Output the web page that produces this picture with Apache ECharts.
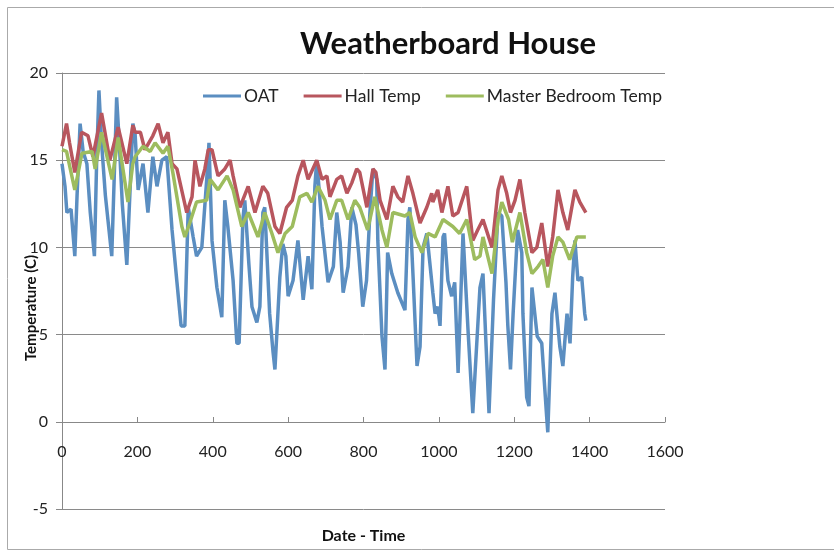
<!DOCTYPE html>
<html>
<head>
    <meta charset="utf-8">
    <title>Weatherboard House</title>
    <script src="https://cdn.jsdelivr.net/npm/echarts@6/dist/echarts.min.js"></script>
</head>
<body style="margin:0;background:#fff;">
<div id="main" style="width: 834px;height:550px;"></div>
<script type="text/javascript">
    // values, [x, temperature]
    var oat = [
        [0, 14.8], [8, 13.5], [13, 12.0], [24, 12.2], [34, 9.5], [40, 13], [48, 17.1], [56, 15.5],
        [66, 14.8], [75, 12], [86, 9.5], [92, 15], [98, 19.0], [105, 16], [115, 13], [132, 9.5],
        [140, 15], [145, 18.6], [152, 16], [160, 12.5], [172, 9.0], [180, 13], [188, 17.1], [194, 16.5],
        [202, 13.3], [215, 14.8], [228, 12], [241, 15.2], [252, 13.5], [265, 15], [278, 15.2], [292, 11],
        [305, 8], [316, 5.5], [326, 5.5], [335, 12.3], [348, 10.6], [357, 9.5], [371, 10], [384, 13.9],
        [390, 16.0], [398, 10.4], [411, 7.7], [424, 6.0], [432, 12.7], [440, 11.2], [454, 8.1], [464, 4.5],
        [470, 4.5], [480, 11.6], [485, 12.7], [496, 9], [504, 6.6], [517, 5.7], [525, 6.6], [533, 12],
        [538, 12.3], [551, 6.2], [560, 4], [565, 3.0], [578, 8.3], [586, 10.2], [594, 9.5], [600, 7.2],
        [613, 8.1], [626, 10.4], [640, 7.0], [653, 9.5], [663, 7.6], [671, 13.5], [676, 15], [690, 11.2],
        [706, 8.0], [720, 8.9], [729, 12], [738, 10.3], [746, 7.4], [759, 8.9], [769, 12.3], [780, 11.3],
        [787, 9.7], [798, 6.6], [808, 8.1], [817, 12], [825, 14.5], [835, 13.9], [838, 10.4], [849, 4.9],
        [857, 3.0], [864, 9.7], [875, 8.5], [891, 7.4], [910, 6.4], [918, 11.6], [923, 12.3], [932, 8.1],
        [942, 3.2], [950, 4.3], [958, 10], [968, 10.8], [977, 8.9], [984, 7.4], [990, 6.2], [997, 6.6],
        [1003, 5.5], [1011, 10.6], [1015, 10.8], [1024, 8.1], [1034, 7.2], [1042, 8.0], [1051, 2.8], [1064, 10.8],
        [1078, 5], [1090, 0.5], [1109, 7.7], [1117, 8.5], [1133, 0.5], [1145, 7], [1157, 12], [1167, 11.8],
        [1178, 8], [1183, 5.5], [1190, 3.0], [1197, 6.2], [1209, 11], [1220, 9.7], [1223, 6.2], [1233, 1.4],
        [1239, 0.9], [1247, 7.7], [1261, 4.9], [1273, 4.5], [1286, 0.3], [1289, -0.6], [1300, 6.2], [1308, 7.4],
        [1321, 4.3], [1329, 3.2], [1340, 6.2], [1348, 4.5], [1355, 8.3], [1361, 10.4], [1369, 8.1], [1379, 8.3],
        [1387, 6.2], [1390, 5.8]
    ];
    var hallTemp = [
        [0, 15.8], [12, 17.1], [20, 16], [34, 14.3], [52, 16.6], [69, 16.4], [82, 15.2], [105, 17.7],
        [127, 15], [149, 16.9], [172, 14.8], [188, 17.0], [194, 16.6], [208, 16.6], [220, 15.6], [241, 16.4],
        [255, 17.1], [268, 16.0], [281, 16.6], [292, 14.8], [305, 14.5], [331, 12.0], [345, 12.9], [353, 15.0],
        [366, 13.5], [379, 14.5], [388, 15.6], [398, 15.6], [414, 14.1], [432, 14.5], [446, 15.0], [454, 14.1],
        [472, 12.3], [494, 13.5], [512, 12.0], [533, 13.5], [546, 13.1], [565, 11.2], [578, 10.8], [596, 12.3],
        [611, 12.7], [626, 14.1], [640, 15.0], [653, 13.9], [676, 15], [690, 13.9], [703, 14.1], [711, 12.9],
        [729, 13.9], [742, 14.1], [756, 13.1], [769, 13.7], [782, 14.5], [790, 14.3], [809, 12.3], [825, 14.5],
        [833, 14.3], [844, 12.7], [862, 11.6], [878, 13.5], [891, 12.9], [904, 12.6], [918, 14.1], [931, 13.1],
        [950, 11.4], [968, 12.3], [981, 13.1], [984, 12.6], [997, 13.3], [1008, 12.0], [1024, 13.5], [1037, 11.8],
        [1051, 12.0], [1074, 13.5], [1090, 10.4], [1103, 11.0], [1117, 11.6], [1141, 10.0], [1157, 13.3], [1167, 14.1],
        [1180, 13.1], [1190, 12.0], [1202, 12.7], [1215, 13.9], [1228, 12.0], [1247, 9.7], [1260, 10.0], [1273, 11.4],
        [1289, 8.9], [1302, 10.6], [1316, 13.3], [1329, 12.0], [1342, 11.0], [1361, 13.3], [1374, 12.6], [1390, 12.0]
    ];
    var bedroomTemp = [
        [0, 15.6], [12, 15.5], [34, 13.3], [53, 15.4], [80, 15.5], [88, 14.5], [105, 16.6], [133, 13.9],
        [149, 16.3], [175, 12.6], [188, 14.8], [194, 15.2], [215, 15.8], [234, 15.5], [247, 16.0], [268, 15.4],
        [281, 15.8], [294, 14.3], [318, 11.2], [326, 10.6], [339, 11.4], [357, 12.6], [384, 12.7], [393, 13.9],
        [414, 13.3], [438, 14.1], [454, 13.3], [477, 11.2], [494, 12.0], [520, 10.6], [538, 12.0], [557, 10.8],
        [573, 9.7], [592, 10.8], [611, 11.2], [631, 12.9], [650, 13.1], [663, 12.6], [679, 13.5], [698, 12.7],
        [711, 11.6], [729, 12.7], [742, 12.7], [759, 11.6], [777, 12.7], [790, 12.3], [811, 11.0], [830, 12.9],
        [849, 11.0], [862, 10.0], [878, 12.0], [910, 11.8], [923, 12.0], [937, 10.6], [955, 9.7], [971, 10.8],
        [990, 10.6], [1011, 11.6], [1037, 11.2], [1055, 10.8], [1074, 11.6], [1095, 9.3], [1109, 9.5], [1117, 10.6],
        [1141, 8.5], [1157, 11.6], [1167, 12.6], [1185, 11.6], [1195, 10.3], [1215, 12.0], [1233, 9.7], [1247, 8.5],
        [1263, 8.9], [1276, 9.3], [1289, 7.7], [1302, 9.5], [1316, 10.6], [1329, 10.3], [1347, 9.3], [1366, 10.6],
        [1390, 10.6]
    ];
    var seriesNames = ['OAT', 'Hall Temp', 'Master Bedroom Temp'];
    var colors = ['#5B8EC1', '#B8565E', '#9DBC5E'];

    var myChart = echarts.init(document.getElementById('main'));
    var font = 'Lato, "Open Sans", sans-serif';

    function line(name, data, color) {
        return {
            name: name,
            type: 'line',
            data: data,
            showSymbol: false,
            lineStyle: { color: color, width: 3.5 },
            itemStyle: { color: color }
        };
    }

    option = {
        animation: false,
        textStyle: { fontFamily: font },
        title: {
            text: 'Weatherboard House',
            left: 443,
            top: 23,
            textAlign: 'center',
            textStyle: { fontSize: 31, fontWeight: 'bold', color: '#111', fontFamily: font }
        },
        legend: {
            left: 198,
            top: 82,
            itemWidth: 38,
            itemHeight: 3,
            itemGap: 25,
            icon: 'rect',
            textStyle: { fontSize: 17.5, color: '#222', fontFamily: font, padding: [0, 0, 0, -2] },
            data: seriesNames
        },
        grid: { left: 62, right: 169, top: 73, bottom: 41, containLabel: false, outerBoundsMode: 'none' },
        xAxis: {
            type: 'value',
            min: 0, max: 1600, interval: 200,
            // the axis crosses the value axis at 0, 5 units above the bottom
            offset: -87,
            name: 'Date - Time',
            nameLocation: 'middle',
            nameGap: 106,
            nameTextStyle: { fontSize: 16, fontWeight: 'bold', color: '#111' },
            axisLine: { onZero: false, lineStyle: { color: '#888' } },
            axisTick: { inside: true, length: 5, lineStyle: { color: '#888' } },
            axisLabel: { fontSize: 16, color: '#222', margin: 22, formatter: function (v) { return String(v); } },
            splitLine: { show: false }
        },
        yAxis: {
            type: 'value',
            min: -5, max: 20, interval: 5,
            axisLine: { show: true, onZero: false, lineStyle: { color: '#888' } },
            axisTick: { show: true, length: 6, lineStyle: { color: '#888' } },
            axisLabel: { fontSize: 16, color: '#222', margin: 14 },
            splitLine: { lineStyle: { color: '#8a8a8a' } }
        },
        graphic: [
            {
                type: 'rect', left: 5, top: 5, silent: true,
                shape: { width: 840, height: 542 },
                style: { fill: 'none', stroke: '#aaa', lineWidth: 1 }
            },
            {
                type: 'text', x: 31, y: 308, rotation: Math.PI / 2,
                style: {
                    text: 'Temperature (C)', fontSize: 15, fontWeight: 'bold', fill: '#111',
                    fontFamily: font, align: 'center', verticalAlign: 'middle'
                }
            }
        ],
        series: [
            line(seriesNames[0], oat, colors[0]),
            line(seriesNames[1], hallTemp, colors[1]),
            line(seriesNames[2], bedroomTemp, colors[2])
        ]
    };

    myChart.setOption(option);
</script>
</body>
</html>
